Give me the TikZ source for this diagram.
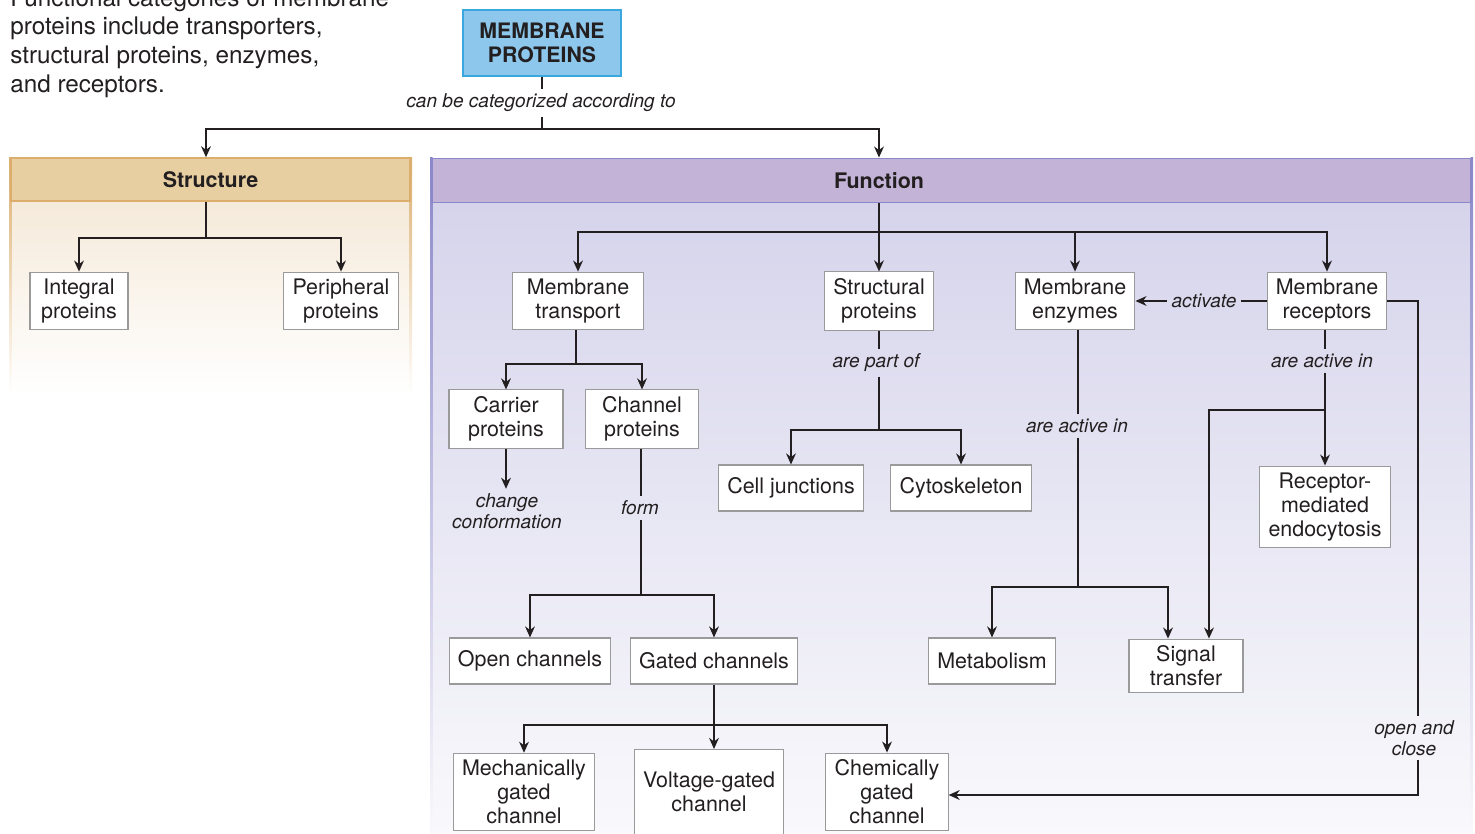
\documentclass[tikz,border=0pt]{standalone}
\usepackage{fontspec}
\setmainfont{TeX Gyre Heros}
\usetikzlibrary{arrows.meta}

\definecolor{ink}{HTML}{231F20}
\definecolor{boxline}{HTML}{9A9A9A}
\definecolor{topfill}{HTML}{8DC7EB}
\definecolor{topline}{HTML}{3AA8DF}
\definecolor{tanhead}{HTML}{E8CFA2}
\definecolor{tanline}{HTML}{DBAE6E}
\definecolor{tanbody}{HTML}{F5EADA}
\definecolor{funchead}{HTML}{C3B4D7}
\definecolor{funcline}{HTML}{8B88C9}
\definecolor{funcbody}{HTML}{D6D4EB}
\definecolor{funcfade}{HTML}{F9F9FC}

\begin{document}
\begin{tikzpicture}[x=0.02cm,y=-0.02cm,
  >={Stealth[length=6.3pt,width=5.6pt]},
  pbox/.style={draw=boxline, fill=white, line width=0.6pt, align=center,
    inner xsep=5pt, inner ysep=3.8pt, minimum height=0.92cm,
    font=\fontsize{12.2}{13.7}\selectfont, text=ink},
  plabel/.style={align=center, inner sep=2.5pt, text=ink,
    font=\itshape\fontsize{10.85}{11.8}\selectfont},
  phead/.style={line width=1.1pt, inner sep=0pt, text=ink,
    font=\bfseries\fontsize{12.2}{14}\selectfont},
  conn/.style={draw=ink, line width=0.75pt}]
\useasboundingbox (0,0) rectangle (1475,834);

% intro text, first line runs off the top
\node[anchor=north west, align=left, inner sep=0pt, text=ink,
  font=\fontsize{13.8}{16.4}\selectfont] (intro) at (10,-12)
  {Functional categories of membrane\\proteins include transporters,\\structural proteins, enzymes,\\and receptors.};

\node[draw=topline, fill=topfill, line width=1.2pt, minimum width=3.16cm, minimum height=1.32cm,
  align=center, text=ink, font=\bfseries\fontsize{12.1}{13.6}\selectfont] (mp) at (542,43) {MEMBRANE\\PROTEINS};
\node[plabel] (catlbl) at (541,103) {can be categorized according to};

% structure panel
\shade[top color=tanbody, bottom color=white] (10,200) rectangle (411,395);
\shade[top color=tanline, bottom color=white] (9,158) rectangle (11.5,395);
\shade[top color=tanline, bottom color=white] (409.5,158) rectangle (412,395);
\node[phead, draw=tanline, fill=tanhead, minimum width=8.0cm, minimum height=0.85cm] (struct) at (210.5,179.5) {Structure};

% function panel
\shade[top color=funcbody, bottom color=funcfade] (431,203) rectangle (1472,834);
\shade[top color=funcline, bottom color=funcfade] (430,158) rectangle (432.5,834);
\shade[top color=funcline, bottom color=funcfade] (1470.5,158) rectangle (1473,834);
\node[phead, draw=funcline, fill=funchead, minimum width=20.8cm, minimum height=0.88cm] (funcbar) at (951.5,180.5) {};
\node[phead] (func) at (879,180.5) {Function};

% structure boxes
\node[pbox, minimum width=1.96cm] (integral) at (79,301) {Integral\\proteins};
\node[pbox] (peripheral) at (341,301) {Peripheral\\proteins};

% function boxes
\node[pbox, minimum width=2.62cm] (mt) at (578,301) {Membrane\\transport};
\node[pbox] (sp) at (879,301) {Structural\\proteins};
\node[pbox] (me) at (1075,301) {Membrane\\enzymes};
\node[pbox] (mr) at (1327,301) {Membrane\\receptors};

\node[pbox, minimum width=2.28cm] (carrier) at (506,419) {Carrier\\proteins};
\node[pbox, minimum width=2.26cm] (channel) at (642,419) {Channel\\proteins};
\node[plabel] (conform) at (507,511) {change\\conformation};
\node[plabel] (form) at (640,508) {form};
\node[pbox] (open) at (530,661) {Open channels};
\node[pbox] (gated) at (714,661) {Gated channels};
\node[pbox] (mech) at (524,792) {Mechanically\\gated\\channel};
\node[pbox, minimum height=1.7cm] (volt) at (709,792) {Voltage-gated\\channel};
\node[pbox] (chem) at (887,792) {Chemically\\gated\\channel};

\node[plabel] (partof) at (876,363) {are part of};
\node[pbox] (cj) at (791,488) {Cell junctions};
\node[pbox] (cyto) at (961,488) {Cytoskeleton};

\node[plabel] (enzact) at (1077,426) {are active in};
\node[pbox] (metab) at (992,661) {Metabolism};
\node[pbox, minimum width=2.28cm] (signal) at (1186,666) {Signal\\transfer};

\node[plabel] (activate) at (1204,301) {activate};
\node[plabel] (recact) at (1322,361) {are active in};
\node[pbox] (rme) at (1325,507) {Receptor-\\mediated\\endocytosis};
\node[plabel] (openclose) at (1414,738) {open and\\close};

% junctions
\coordinate (split) at (542,129);
\coordinate (sj) at (206,238);
\coordinate (fj) at (879,232);
\coordinate (mtj) at (576,364);
\coordinate (chj) at (641,595);
\coordinate (gj) at (714,725);
\coordinate (spj) at (879,430);
\coordinate (mej) at (1078,587);
\coordinate (mrj) at (1325,410);
\coordinate (oc) at (1418,795);

% top level
\draw[conn] (mp.south) -- (catlbl.north -| mp.south);
\draw[conn] (catlbl.south -| split) -- (split);
\draw[conn,->] (split) -| (struct.north -| sj);
\draw[conn,->] (split) -| (funcbar.north -| fj);

% structure
\draw[conn] (struct.south -| sj) -- (sj);
\draw[conn,->] (sj) -| (integral);
\draw[conn,->] (sj) -| (peripheral);

% function
\draw[conn,->] (funcbar.south -| fj) -- (sp);
\draw[conn,->] (fj) -| (mt);
\draw[conn,->] (fj) -| (me);
\draw[conn,->] (fj) -| (mr);

% transport
\draw[conn] (mt.south -| mtj) -- (mtj);
\draw[conn,->] (mtj) -| (carrier);
\draw[conn,->] (mtj) -| (channel);
\draw[conn,->] (carrier.south) -- (conform.north -| carrier.south);
\draw[conn] (channel.south -| chj) -- (form.north -| chj);
\draw[conn] (form.south -| chj) -- (chj);
\draw[conn,->] (chj) -| (open);
\draw[conn,->] (chj) -| (gated);
\draw[conn] (gated.south -| gj) -- (gj);
\draw[conn,->] (gj) -| (mech);
\draw[conn,->] (gj) -- (gj |- volt.north);
\draw[conn,->] (gj) -| (chem);

% structural proteins
\draw[conn] (sp.south -| spj) -- (partof.north -| spj);
\draw[conn] (partof.south -| spj) -- (spj);
\draw[conn,->] (spj) -| (cj);
\draw[conn,->] (spj) -| (cyto);

% enzymes
\draw[conn] (me.south -| mej) -- (enzact.north -| mej);
\draw[conn] (enzact.south -| mej) -- (mej);
\draw[conn,->] (mej) -| (metab);
\draw[conn,->] (mej) -| ([xshift=-0.36cm]signal.north);

% receptors
\draw[conn] (mr.west) -- (activate.east);
\draw[conn,->] (activate.west) -- (me.east);
\draw[conn] (mr.south -| mrj) -- (recact.north -| mrj);
\draw[conn,->] (recact.south -| mrj) -- (rme.north -| mrj);
\draw[conn,->] (mrj) -| ([xshift=0.46cm]signal.north);
\draw[conn] (mr.east) -| (openclose.north -| oc);
\draw[conn,->] (openclose.south -| oc) |- (chem.east |- oc);
\end{tikzpicture}
\end{document}
